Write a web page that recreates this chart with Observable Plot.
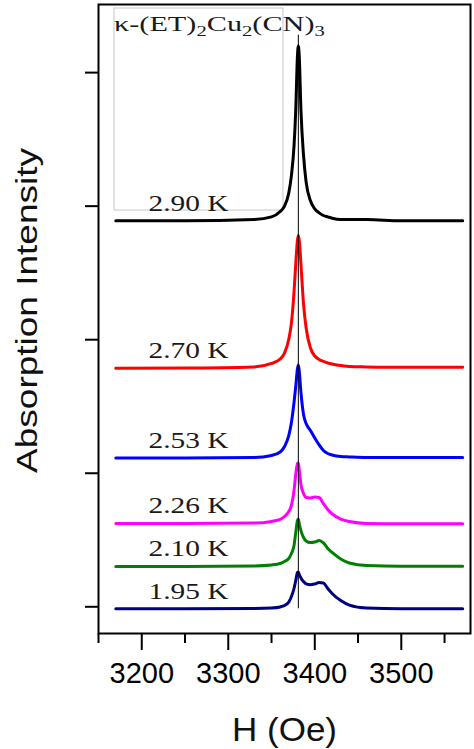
<!DOCTYPE html>
<html><head><meta charset="utf-8">
<script src="https://cdn.jsdelivr.net/npm/d3@7"></script>
<script src="https://cdn.jsdelivr.net/npm/@observablehq/plot@0.6"></script>
<style>html,body{margin:0;padding:0;background:#fff}</style>
</head><body><div id="chart"></div>
<script>
// Magnetic field grid (Oe)
const fieldH = [3170, 3250, 3330, 3350, 3360, 3365, 3370, 3373, 3376, 3378, 3380, 3381, 3382, 3384, 3387, 3390, 3395, 3400, 3405, 3410, 3415, 3420, 3430, 3440, 3460, 3500, 3571];
// Offset absorption spectra (arbitrary units), one array per temperature
const i290 = [2.89, 2.89, 2.90, 2.92, 2.96, 3.00, 3.10, 3.23, 3.45, 3.72, 4.13, 4.20, 4.13, 3.72, 3.38, 3.18, 3.04, 2.98, 2.95, 2.93, 2.92, 2.91, 2.90, 2.90, 2.90, 2.89, 2.89];
const i270 = [1.787, 1.788, 1.796, 1.822, 1.855, 1.900, 2.005, 2.125, 2.357, 2.567, 2.747, 2.780, 2.747, 2.567, 2.267, 2.088, 1.938, 1.878, 1.852, 1.837, 1.826, 1.818, 1.807, 1.799, 1.796, 1.793, 1.794];
const i253 = [1.114, 1.114, 1.118, 1.133, 1.159, 1.200, 1.283, 1.380, 1.530, 1.650, 1.784, 1.811, 1.769, 1.605, 1.440, 1.372, 1.320, 1.264, 1.212, 1.170, 1.148, 1.137, 1.125, 1.122, 1.118, 1.118, 1.118];
const i226 = [0.624, 0.624, 0.627, 0.639, 0.654, 0.676, 0.714, 0.759, 0.871, 0.991, 1.073, 1.077, 1.028, 0.916, 0.848, 0.818, 0.815, 0.822, 0.818, 0.773, 0.729, 0.695, 0.657, 0.639, 0.624, 0.621, 0.621];
const i210 = [0.302, 0.302, 0.306, 0.313, 0.324, 0.339, 0.362, 0.399, 0.459, 0.556, 0.646, 0.657, 0.624, 0.571, 0.519, 0.493, 0.481, 0.485, 0.496, 0.478, 0.437, 0.407, 0.358, 0.328, 0.309, 0.304, 0.304];
const i195 = [-0.015, -0.015, -0.013, -0.009, -0.001, 0.010, 0.036, 0.077, 0.137, 0.197, 0.257, 0.261, 0.242, 0.216, 0.189, 0.171, 0.165, 0.171, 0.182, 0.178, 0.137, 0.100, 0.047, 0.013, -0.009, -0.015, -0.015];
const temps = ["2.90 K", "2.70 K", "2.53 K", "2.26 K", "2.10 K", "1.95 K"];
const colors = ["#000000", "#ff0000", "#0000ff", "#ff00ff", "#008000", "#000080"];
const xTicks = [3200, 3300, 3400, 3500];
const xMinorTicks = [3150, 3250, 3350, 3450, 3550];
const yTicks = [0, 1, 2, 3, 4];
const peakField = 3381;
const labelField = 3254;

const series = [i290, i270, i253, i226, i210, i195];
const rows = series.flatMap((s, k) => s.map((v, j) => ({H: fieldH[j], I: v, T: temps[k]})));
const labels = series.map((s, k) => ({T: temps[k], I: s[0]}));

const serif = "'Liberation Serif', 'Times New Roman', serif";
const sans = "'Liberation Sans', Arial, sans-serif";

const plot = Plot.plot({
  width: 474, height: 749,
  marginLeft: 98, marginRight: 4, marginTop: 4, marginBottom: 116,
  x: {domain: [3150, 3580]},
  y: {domain: [-0.2, 4.51]},
  color: {domain: temps, range: colors},
  style: {fontFamily: sans, fontSize: "29px", background: "#fff", color: "#000"},
  marks: [
    Plot.rect([0], {x1: 3168.5, x2: 3363.8, y1: 2.967, y2: 4.48, fill: "none", stroke: "#c8c8c8", strokeWidth: 1}),
    Plot.line(rows, {x: "H", y: "I", z: "T", stroke: "T", strokeWidth: 3, curve: "monotone-x"}),
    Plot.ruleX([peakField], {y1: d3.min(i195), y2: d3.max(i290) + 0.08, stroke: "black", strokeWidth: 1}),
    Plot.text(labels, {x: labelField, y: "I", text: "T", dy: -10, lineAnchor: "bottom", fontFamily: serif, fontSize: 23, fill: "#1a1a1a"}),
    Plot.axisX(xTicks, {tickSize: 17, tickPadding: 12, strokeWidth: 2, label: null, tickFormat: d => String(d)}),
    Plot.axisX(xMinorTicks, {tickSize: 10, strokeWidth: 2, tickFormat: () => "", label: null}),
    Plot.axisY(yTicks, {tickSize: 13, strokeWidth: 2, tickFormat: () => "", label: null}),
    Plot.frame({stroke: "black", strokeWidth: 2}),
    Plot.text(["H (Oe)"], {frameAnchor: "bottom", dy: 107, lineAnchor: "bottom", fontSize: 33, fill: "#111"}),
    Plot.text(["Absorption Intensity"], {frameAnchor: "left", textAnchor: "middle", dx: -71, dy: -8.5, rotate: -90, fontSize: 30, fill: "#111"})
  ]
});
document.getElementById("chart").appendChild(plot);

const svg = d3.select(plot);
svg.selectAll("text").each(function () {
  const s = this.textContent;
  if (/^\d\.\d\d K$/.test(s)) { this.setAttribute("textLength", 80); this.setAttribute("lengthAdjust", "spacingAndGlyphs"); }
  if (s === "H (Oe)") { this.setAttribute("textLength", 105); this.setAttribute("lengthAdjust", "spacingAndGlyphs"); }
  if (s === "Absorption Intensity") {
    const len = this.getComputedTextLength();
    const tr = this.getAttribute("transform") || "";
    this.setAttribute("transform", `${tr} scale(${325 / len},1)`);
  }
});

// Title with subscripts
const title = svg.append("g");
const tt = title.append("text").attr("font-family", serif).attr("font-size", 22).attr("fill", "#1a1a1a").attr("text-anchor", "start");
const parts = [["κ-(ET)", 0], ["2", 1], ["Cu", 0], ["2", 1], ["(CN)", 0], ["3", 1]];
let sub = 0;
for (const [str, isSub] of parts) {
  const ts = tt.append("tspan").text(str);
  if (isSub && !sub) { ts.attr("dy", 5).attr("font-size", 15); sub = 1; }
  else if (isSub) { ts.attr("font-size", 15); }
  else if (sub) { ts.attr("dy", -5); sub = 0; }
}
const w = tt.node().getComputedTextLength();
title.attr("transform", `translate(114,31) scale(${211 / w},1)`);
</script>
</body></html>
